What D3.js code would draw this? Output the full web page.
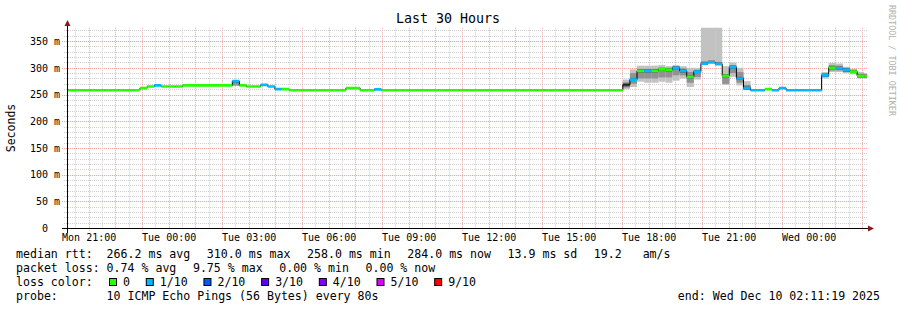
<!DOCTYPE html>
<html lang="en">
<head>
<meta charset="utf-8">
<script src="https://d3js.org/d3.v7.min.js"></script>
<style>
  body { margin: 0; background: #fff; }
  svg text { font-family: "DejaVu Sans Mono", monospace; fill: #000; }
</style>
</head>
<body>
<svg id="chart" width="897" height="310"></svg>
<script>
// 30 hour window ending at the time printed in the footer
const endTime = new Date(2025, 11, 10, 2, 11, 19);
const startTime = new Date(+endTime - 30 * 3600 * 1000);
// consolidated rows (12 pings x 80s) start a little before the window
const firstRow = new Date(+startTime - 688 * 1000);
const rowSec = 958.5;

// median rtt per row, ms
const median = [
  258, 258, 258, 258, 258, 258, 258, 258, 258, 258,
  258, 262, 265, 267, 265, 265, 265, 267, 267, 267,
  267, 267, 267, 267, 275, 267, 265, 265, 268, 265,
  260, 260, 258, 258, 258, 258, 258, 258, 258, 258,
  262, 262, 258, 258, 259.5, 258, 258, 258, 258, 258,
  258, 258, 258, 258, 258, 258, 258, 258, 258, 258,
  258, 258, 258, 258, 258, 258, 258, 258, 258, 258,
  258, 258, 258, 258, 258, 258, 258, 258, 258, 268,
  278, 294, 294, 294, 297, 296, 300, 294, 283, 293,
  308, 310, 307, 285, 301, 280, 262, 258, 258, 260,
  258, 262, 258, 258, 258, 258, 258, 286, 300, 299,
  296, 293, 285, 284
];

// loss colour level per row (index into lossLabels), null = no colour band
const lossLevel = [
  0, 0, 0, 0, 0, 0, 0, 0, 0, 0,
  0, 0, 0, 1, 0, 0, 0, 0, 0, 0,
  0, 0, 0, 0, 1, 0, 0, 0, 1, 1,
  1, 0, 0, 0, 0, 0, 0, 0, 0, 0,
  0, 0, 0, 0, 1, 0, 0, 0, 0, 0,
  0, 0, 0, 0, 0, 0, 0, 0, 0, 0,
  0, 0, 0, 0, 0, 0, 0, 0, 0, 0,
  0, 0, 0, 0, 0, 0, 0, 0, 0, null,
  1, 0, 1, 0, 0, 0, 1, 1, 0, 1,
  1, 1, 1, 0, 1, 1, 1, 1, 1, 0,
  1, 1, 1, 1, 1, 1, 1, 1, 0, 1,
  1, 0, 0, 0
];

// smoke (ping spread) for the rows that have visible spread
const smokeRows = [24, 79, 80, 81, 82, 83, 84, 85, 86, 87, 88, 89, 90, 91, 92, 93, 94, 95, 96,
                   107, 108, 109, 110, 111, 112, 113];
const smokeLo   = [266, 260, 264, 274, 272, 272, 274, 272, 276, 280, 264, 278, 309, 311, 308, 268, 283, 267, 258,
                   280, 292, 292, 290, 288, 280, 280];
const smokeHi   = [275, 278, 297, 304, 304, 304, 305, 303, 305, 303, 300, 300, 380, 380, 380, 303, 310, 300, 275,
                   292, 309, 308, 302, 298, 292, 290];
const innerLo   = [267, 263, 270, 280, 280, 280, 282, 282, 286, 286, 272, 283, 309, 311, 308, 270, 290, 272, 259,
                   283, 295, 295, 292, 290, 282, 282];
const innerHi   = [274, 273, 290, 298, 298, 298, 300, 300, 302, 299, 292, 296, 312, 314, 311, 288, 305, 292, 268,
                   290, 305, 304, 300, 296, 289, 288];

const lossLabels = ["0", "1/10", "2/10", "3/10", "4/10", "5/10", "9/10"];
const lossColors = ["#26ff00", "#00b8ff", "#0059ff", "#5e00ff", "#7e00ff", "#dd00ff", "#ff0000"];

const rttLine = ["median rtt:  266.2 ms avg", "310.0 ms max", "258.0 ms min", "284.0 ms now", "13.9 ms sd", "19.2   am/s"];
const lossLine = ["packet loss: 0.74 % avg", "9.75 % max", "0.00 % min", "0.00 % now"];
const probeText = "10 ICMP Echo Pings (56 Bytes) every 80s";
const endText = "end: Wed Dec 10 02:11:19 2025";

const svg = d3.select("#chart");
const plotLeft = 67, plotRight = 867, plotTop = 27.75, plotBottom = 228;
const cw = 6.97;        // legend char width
const legendGap = 16.6;

const x = d3.scaleTime().domain([startTime, endTime]).range([plotLeft, plotRight]);
const y = d3.scaleLinear().domain([0, 375]).range([plotBottom, plotTop]);
const rowTime = k => new Date(+firstRow + k * rowSec * 1000);
const px = v => Math.round(v) + 0.5;

svg.append("rect").attr("width", 897).attr("height", 310).attr("fill", "#fff");

// grid
const grid = svg.append("g").attr("stroke-dasharray", "1,1").attr("fill", "none");
d3.range(10, 375, 10).forEach(v => {
  const major = v % 50 === 0;
  grid.append("line")
    .attr("x1", major ? 62 : 64).attr("x2", plotRight)
    .attr("y1", px(y(v))).attr("y2", px(y(v)))
    .attr("stroke", major ? "#f5a3a3" : "#cfcfcf");
});
d3.timeMinute.every(30).range(startTime, endTime).forEach(t => {
  const major = t.getMinutes() === 0;
  grid.append("line")
    .attr("x1", px(x(t))).attr("x2", px(x(t)))
    .attr("y1", plotTop).attr("y2", major ? 231 : 230)
    .attr("stroke", major ? "#f5a3a3" : "#cfcfcf");
});

const plot = svg.append("g").attr("clip-path", "url(#plotClip)");
svg.append("clipPath").attr("id", "plotClip").append("rect")
  .attr("x", plotLeft).attr("y", plotTop).attr("width", plotRight - plotLeft).attr("height", plotBottom - plotTop);

// smoke
smokeRows.forEach((k, i) => {
  const x0 = x(rowTime(k)), x1 = x(rowTime(k + 1));
  plot.append("rect").attr("x", x0).attr("width", x1 - x0)
    .attr("y", y(smokeHi[i])).attr("height", y(smokeLo[i]) - y(smokeHi[i]))
    .attr("fill", "#c2c2c2");
  plot.append("rect").attr("x", x0).attr("width", x1 - x0)
    .attr("y", y(innerHi[i])).attr("height", y(innerLo[i]) - y(innerHi[i]))
    .attr("fill", "#929292");
  const cLo = Math.max(smokeLo[i], median[k] - 3), cHi = Math.min(smokeHi[i], median[k] + 3);
  if (cHi > cLo) {
    plot.append("rect").attr("x", x0).attr("width", x1 - x0)
      .attr("y", y(cHi)).attr("height", y(cLo) - y(cHi))
      .attr("fill", "#5e5e5e");
  }
});

// median step line
const pts = median.map((m, k) => [x(rowTime(k)), y(m)]);
pts.push([x(rowTime(median.length)), y(median[median.length - 1])]);
plot.append("path")
  .attr("d", d3.line().curve(d3.curveStepAfter)(pts))
  .attr("fill", "none").attr("stroke", "#000").attr("stroke-width", 1);

// loss coloured median bands
median.forEach((m, k) => {
  if (lossLevel[k] === null) return;
  plot.append("line")
    .attr("x1", x(rowTime(k))).attr("x2", x(rowTime(k + 1)))
    .attr("y1", y(m)).attr("y2", y(m))
    .attr("stroke", lossColors[lossLevel[k]]).attr("stroke-width", 2.7);
});

// axes
const xAxis = d3.axisBottom(x)
  .ticks(d3.timeHour.every(3))
  .tickFormat(d3.timeFormat("%a %H:%M"))
  .tickSize(0).tickPadding(6);
const gx = svg.append("g").attr("transform", `translate(0,${plotBottom})`).call(xAxis);
gx.select(".domain").remove();
gx.selectAll("text").attr("font-size", 10).attr("font-family", "DejaVu Sans Mono").attr("fill", "#000");

const yAxis = d3.axisLeft(y)
  .tickValues(d3.range(0, 375, 50))
  .tickFormat(d => d === 0 ? "0\u00a0\u00a0" : d + " m")
  .tickSize(0).tickPadding(7);
const gy = svg.append("g").attr("transform", `translate(${plotLeft},0)`).call(yAxis);
gy.select(".domain").remove();
gy.selectAll("text").attr("font-size", 10).attr("font-family", "DejaVu Sans Mono").attr("fill", "#000");

svg.append("line").attr("x1", 62).attr("x2", 869).attr("y1", 228.5).attr("y2", 228.5)
  .attr("stroke", "#000").attr("stroke-width", 1);
svg.append("line").attr("x1", 67.5).attr("x2", 67.5).attr("y1", 233).attr("y2", 24)
  .attr("stroke", "#000").attr("stroke-width", 1);
svg.append("path").attr("d", "M868,225.5L874,228.5L868,231.5Z").attr("fill", "#8b1a1a");
svg.append("path").attr("d", "M64.5,26L67.5,20L70.5,26Z").attr("fill", "#8b1a1a");

// titles
svg.append("text").attr("x", 448).attr("y", 23).attr("text-anchor", "middle")
  .attr("font-size", 13.3).text("Last 30 Hours");
svg.append("text").attr("transform", "translate(15,128) rotate(-90)").attr("text-anchor", "middle")
  .attr("font-size", 11.5).text("Seconds");
svg.append("text").attr("transform", "translate(889,5) rotate(90)")
  .attr("font-size", 8.4).style("fill", "#b0b0b0").text("RRDTOOL / TOBI OETIKER");

// legend
const leg = svg.append("g").attr("font-size", 11.58);
function chain(items, yBase) {
  let lx = 16;
  items.forEach(s => {
    leg.append("text").attr("x", lx).attr("y", yBase).attr("xml:space", "preserve").text(s);
    lx += s.length * cw + legendGap;
  });
}
chain(rttLine, 257.5);
chain(lossLine, 271.5);

leg.append("text").attr("x", 16).attr("y", 285.5).text("loss color:");
let bx = 109;
lossLabels.forEach((lab, i) => {
  leg.append("rect").attr("x", bx + 0.5).attr("y", 278.5).attr("width", 7).attr("height", 7)
    .attr("fill", lossColors[i]).attr("stroke", "#000").attr("stroke-width", 1);
  leg.append("text").attr("x", bx + 14).attr("y", 285.5).text(lab);
  bx += 14 + lab.length * cw + 15.8;
});

leg.append("text").attr("x", 16).attr("y", 299.5).text("probe:");
leg.append("text").attr("x", 16 + 13 * cw).attr("y", 299.5).text(probeText);
leg.append("text").attr("x", 880).attr("y", 299.5).attr("text-anchor", "end").text(endText);
</script>
</body>
</html>
